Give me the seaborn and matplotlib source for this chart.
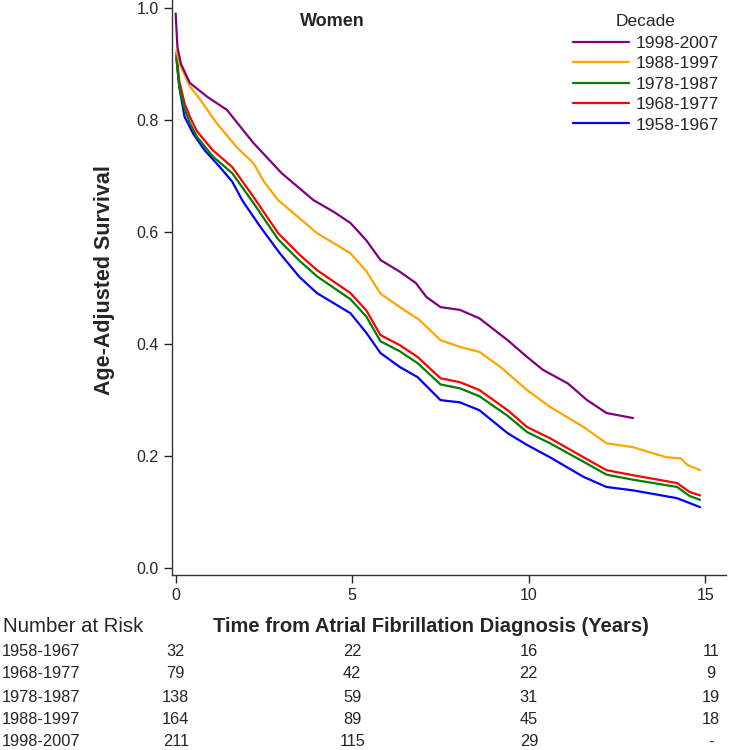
import pandas as pd
import matplotlib
matplotlib.use('Agg')
import matplotlib.pyplot as plt
import matplotlib.transforms as mtransforms
from matplotlib.lines import Line2D
import seaborn as sns

# --- data
decades = ['1998-2007', '1988-1997', '1978-1987', '1968-1977', '1958-1967']
colors = ['#800080', '#FFA500', '#008000', '#FF0000', '#0000FF']

t_9807 = [0, 0.05, 0.15, 0.4, 0.9, 1.45, 2.2, 3.0, 3.9, 4.5, 4.95, 5.4, 5.8, 6.35,
          6.8, 7.1, 7.5, 8.05, 8.6, 9.4, 9.95, 10.4, 11.1, 11.65, 12.2, 12.95]
s_9807 = [0.99, 0.93, 0.90, 0.866, 0.841, 0.818, 0.759, 0.705, 0.657, 0.635, 0.616,
          0.585, 0.55, 0.529, 0.509, 0.484, 0.466, 0.461, 0.446, 0.407, 0.377, 0.354,
          0.33, 0.30, 0.277, 0.268]

t_8897 = [0.02, 0.11, 0.4, 0.7, 1.15, 1.75, 2.2, 2.5, 2.9, 3.5, 4.0, 4.95, 5.4, 5.8,
          6.35, 6.9, 7.5, 8.05, 8.6, 9.2, 9.95, 10.6, 11.55, 12.2, 12.95, 13.9, 14.3,
          14.5, 14.85]
s_8897 = [0.925, 0.90, 0.86, 0.836, 0.795, 0.75, 0.723, 0.69, 0.657, 0.625, 0.598,
          0.562, 0.53, 0.49, 0.466, 0.443, 0.407, 0.395, 0.386, 0.359, 0.318, 0.288,
          0.252, 0.223, 0.216, 0.198, 0.196, 0.184, 0.175]

t_6887 = [0.02, 0.1, 0.25, 0.4, 0.6, 1.05, 1.6, 2.2, 2.9, 3.5, 4.0, 4.95, 5.4, 5.8,
          6.35, 6.85, 7.5, 8.05, 8.6, 9.4, 9.95, 10.6, 11.55, 12.2, 12.95, 14.2, 14.55,
          14.85]
s_7887 = [0.915, 0.86, 0.82, 0.795, 0.77, 0.735, 0.705, 0.652, 0.587, 0.549, 0.521,
          0.48, 0.449, 0.405, 0.387, 0.366, 0.328, 0.321, 0.307, 0.272, 0.243, 0.223,
          0.19, 0.167, 0.158, 0.145, 0.129, 0.122]
s_6877 = [0.92, 0.87, 0.83, 0.806, 0.78, 0.746, 0.716, 0.663, 0.598, 0.56, 0.532,
          0.491, 0.46, 0.416, 0.398, 0.377, 0.339, 0.332, 0.318, 0.282, 0.252, 0.232,
          0.198, 0.175, 0.166, 0.152, 0.136, 0.130]

t_5867 = [0.02, 0.1, 0.25, 0.5, 0.82, 1.25, 1.6, 1.9, 2.4, 2.95, 3.5, 4.0, 4.95, 5.4,
          5.8, 6.35, 6.85, 7.5, 8.05, 8.6, 9.4, 9.95, 10.6, 11.55, 12.2, 12.95, 14.2,
          14.85]
s_5867 = [0.91, 0.86, 0.806, 0.775, 0.746, 0.716, 0.69, 0.655, 0.609, 0.562, 0.52,
          0.491, 0.455, 0.42, 0.384, 0.359, 0.341, 0.30, 0.296, 0.282, 0.241, 0.22,
          0.198, 0.163, 0.145, 0.139, 0.125, 0.109]

risk_times = [0, 5, 10, 15]
risk_rows = ['1958-1967', '1968-1977', '1978-1987', '1988-1997', '1998-2007']
risk_counts = [['32', '22', '16', '11'],
               ['79', '42', '22', '9'],
               ['138', '59', '31', '19'],
               ['164', '89', '45', '18'],
               ['211', '115', '29', '-']]

curves = {'1998-2007': (t_9807, s_9807), '1988-1997': (t_8897, s_8897),
          '1978-1987': (t_6887, s_7887), '1968-1977': (t_6887, s_6877),
          '1958-1967': (t_5867, s_5867)}
df = pd.concat([pd.DataFrame({'Years': t, 'Survival': s, 'Decade': d})
                for d, (t, s) in curves.items()], ignore_index=True)

sns.set_style('ticks')
plt.rcParams['font.family'] = ['Liberation Sans', 'DejaVu Sans']

fig = plt.figure(figsize=(7.31, 7.5), dpi=100)
ax = fig.add_axes([0.235, 0.233, 0.758, 0.767])
palette = dict(zip(decades, colors))
sns.lineplot(data=df, x='Years', y='Survival', hue='Decade', hue_order=decades[::-1],
             palette=palette, linewidth=1.6, estimator=None, sort=False, legend=False, ax=ax)

ax.set_xlim(-0.11, 15.58)
ax.set_ylim(-0.0125, 1.014)
ax.set_xticks([0, 5, 10, 15])
ax.set_yticks([0.0, 0.2, 0.4, 0.6, 0.8, 1.0])
ax.set_yticklabels(['0.0', '0.2', '0.4', '0.6', '0.8', '1.0'])
ax.tick_params(axis='both', labelsize=11.5, length=6, width=1, direction='out')
for side in ['top', 'right']:
    ax.spines[side].set_visible(False)
for side in ['left', 'bottom']:
    ax.spines[side].set_linewidth(1)
    ax.spines[side].set_color('#333333')
ax.set_xlabel('')
ax.set_ylabel('Age-Adjusted Survival', fontsize=15.5, fontweight='bold')
ax.yaxis.set_label_coords(-0.102, 0.513)
ax.text(0.289, 0.962, 'Women', transform=ax.transAxes, ha='center', va='center',
        fontsize=13, fontweight='bold')

handles = [Line2D([0], [0], color=c, lw=1.6) for c in colors]
leg = fig.legend(handles, decades, title='Decade', loc='upper left', frameon=False,
                 fontsize=12.5, title_fontsize=12.5, handlelength=3.25, handletextpad=0.35,
                 labelspacing=0.3, borderpad=0, borderaxespad=0,
                 bbox_to_anchor=(573 / 731, 1 - 14 / 750))
leg._legend_box.sep = 5

# --- number at risk table
trans = mtransforms.blended_transform_factory(ax.transData, fig.transFigure)
fig.text(0.004, 1 - 626 / 750, 'Number at Risk', fontsize=14.7, va='center', ha='left')
fig.text(0.59, 1 - 627 / 750, 'Time from Atrial Fibrillation Diagnosis (Years)',
         fontsize=14.5, fontweight='bold', va='center', ha='center')
row_y = [651, 674, 697, 720, 742]
for label, counts, yp in zip(risk_rows, risk_counts, row_y):
    yf = 1 - yp / 750
    fig.text(0.003, yf, label, fontsize=11.8, va='center', ha='left')
    for tx, c in zip(risk_times, counts):
        xpos = tx if tx < 15 else 15.15
        ax.text(xpos, yf, c, transform=trans, fontsize=11.8, va='center', ha='center')

fig.savefig('out.png', dpi=100)
